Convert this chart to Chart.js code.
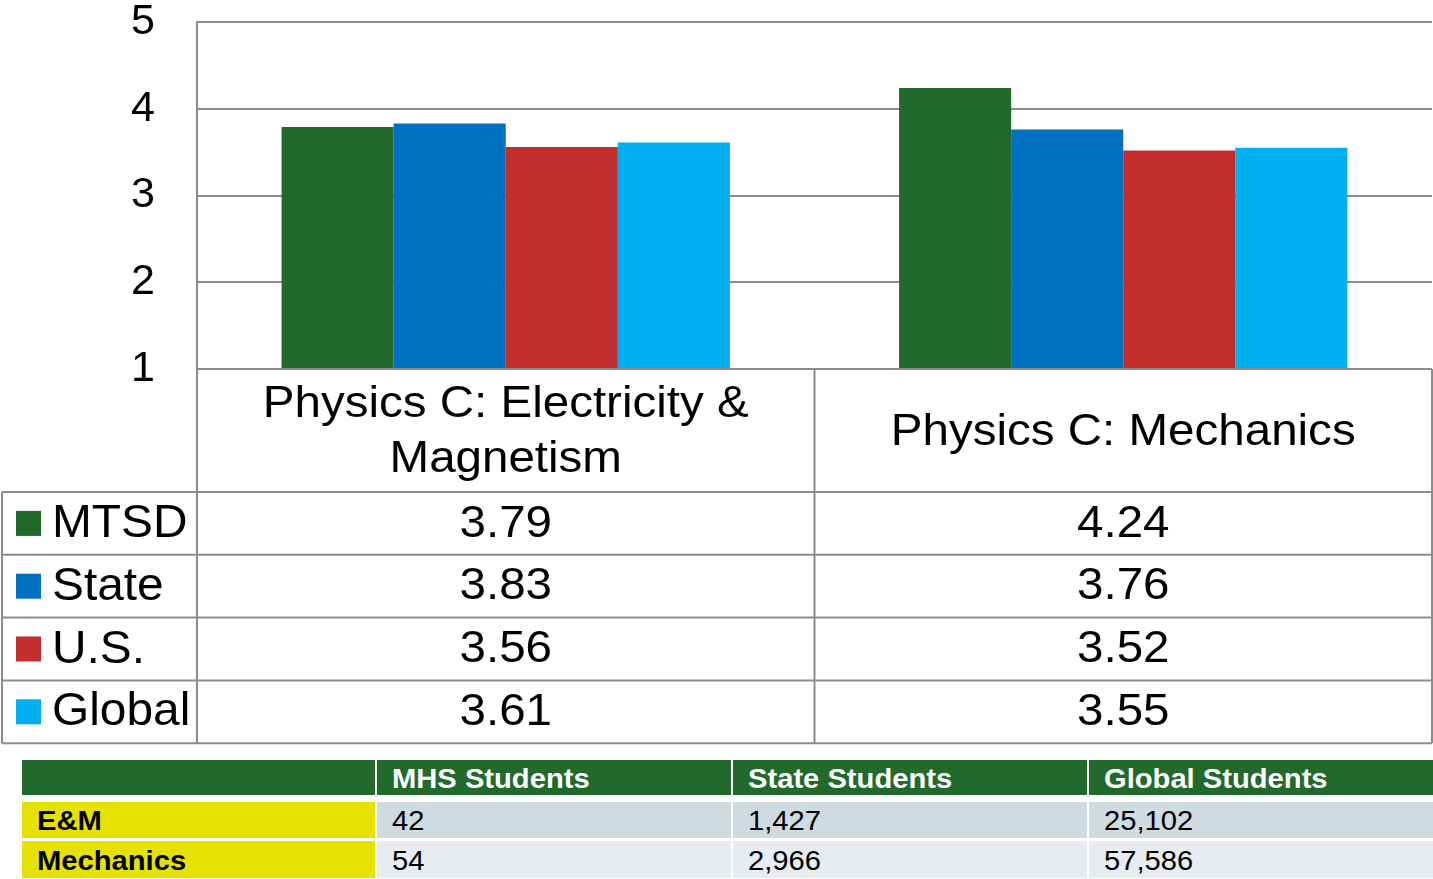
<!DOCTYPE html>
<html>
<head>
<meta charset="utf-8">
<script src="https://cdn.jsdelivr.net/npm/chart.js@4"></script>
<style>
  body { margin: 0; background: #fff; width: 1433px; height: 879px; overflow: hidden; position: relative; font-family: "Liberation Sans", Arial, sans-serif; }
  #chart { position: absolute; left: 0; top: 0; }
  .cell { position: absolute; box-sizing: border-box; padding-left: 15px; font-size: 27px; color: #000; white-space: nowrap; }
  .cell span { display: inline-block; transform: scaleX(1.08); transform-origin: left center; }
  .head { background: #216a2c; color: #fff; font-weight: bold; }
  .label { background: #e6e200; font-weight: bold; }
  .r0 { background: #cedbe1; }
  .r1 { background: #e6ecf0; }
</style>
</head>
<body>
<canvas id="chart" width="1433" height="750"></canvas>
<div id="students"></div>
<script>
// chart data
const categories = [['Physics C: Electricity &', 'Magnetism'], ['Physics C: Mechanics']];
const seriesNames = ['MTSD', 'State', 'U.S.', 'Global'];
const seriesColors = ['#216a2c', '#0070c0', '#c22d2e', '#00b0f0'];
const mtsd = [3.79, 4.24];
const state = [3.83, 3.76];
const us = [3.56, 3.52];
const global = [3.61, 3.55];
const yTicks = [1, 2, 3, 4, 5];

// student count table
const studentHeaders = ['', 'MHS Students', 'State Students', 'Global Students'];
const studentRows = ['E&M', 'Mechanics'];
const mhsStudents = ['42', '54'];
const stateStudents = ['1,427', '2,966'];
const globalStudents = ['25,102', '57,586'];

const FONT = '"Liberation Sans", Arial, sans-serif';
const LINE = '#8c8c8c';
const STRETCH = 1.08; // the source slide text is a bit wider than plain Arial

const seriesValues = [mtsd, state, us, global];

function wideText(ctx, text, x, y, sx) {
    ctx.save();
    ctx.translate(x, y);
    ctx.scale(sx, 1);
    ctx.fillText(text, 0, 0);
    ctx.restore();
}

// data table under the plot, drawn from the x scale
const dataTable = {
    id: 'dataTable',
    afterDraw(chart) {
        const ctx = chart.ctx;
        const area = chart.chartArea;
        const xs = chart.scales.x;
        const left = area.left;
        const mid = (xs.getPixelForValue(0) + xs.getPixelForValue(1)) / 2;
        const right = area.right;
        const bounds = [left, mid, right];
        const headTop = area.bottom;
        const headBottom = headTop + 123;
        const rowH = 62.8;
        const tableBottom = headBottom + rowH * seriesNames.length;
        const outerLeft = 2;

        ctx.save();
        ctx.strokeStyle = LINE;
        ctx.lineWidth = 2;
        ctx.beginPath();
        // header row
        ctx.moveTo(left, headTop); ctx.lineTo(right, headTop);
        bounds.forEach(x => { ctx.moveTo(x, headTop); ctx.lineTo(x, tableBottom); });
        // series rows
        for (let i = 0; i <= seriesNames.length; i++) {
            const y = headBottom + rowH * i;
            ctx.moveTo(outerLeft, y); ctx.lineTo(right, y);
        }
        ctx.moveTo(outerLeft, headBottom); ctx.lineTo(outerLeft, tableBottom);
        ctx.stroke();

        ctx.fillStyle = '#000';
        ctx.textAlign = 'center';
        ctx.textBaseline = 'middle';
        ctx.font = '44px ' + FONT;
        categories.forEach((lines, c) => {
            const cx = (bounds[c] + bounds[c + 1]) / 2;
            const cy = (headTop + headBottom) / 2 + 2;
            const lh = 55;
            lines.forEach((t, k) => {
                wideText(ctx, t, cx, cy + (k - (lines.length - 1) / 2) * lh, STRETCH);
            });
        });

        seriesNames.forEach((name, i) => {
            const cy = headBottom + rowH * i + rowH / 2;
            ctx.fillStyle = seriesColors[i];
            ctx.fillRect(16, cy - 12.5, 25, 25);
            ctx.fillStyle = '#000';
            ctx.textAlign = 'left';
            ctx.font = '46px ' + FONT;
            wideText(ctx, name, 52, cy + 1, 1.04);
            ctx.textAlign = 'center';
            ctx.font = '44px ' + FONT;
            seriesValues[i].forEach((v, c) => {
                wideText(ctx, v.toFixed(2), (bounds[c] + bounds[c + 1]) / 2, cy + 1, STRETCH);
            });
        });
        ctx.restore();
    }
};

new Chart(document.getElementById('chart'), {
    type: 'bar',
    data: {
        labels: categories,
        datasets: seriesNames.map((name, i) => ({
            label: name,
            data: seriesValues[i],
            backgroundColor: seriesColors[i],
            borderWidth: 0,
            categoryPercentage: 0.726,
            barPercentage: 1
        }))
    },
    options: {
        responsive: false,
        animation: false,
        layout: { padding: { top: 22, right: 1, bottom: 381, left: 0 } },
        plugins: { legend: { display: false }, tooltip: { enabled: false } },
        scales: {
            x: { display: false },
            y: {
                min: 1,
                max: 5,
                afterFit: s => {
                    s.width = 197;
                    s.paddingTop = 0;
                    s.paddingBottom = 0;
                },
                afterBuildTicks: s => { s.ticks = yTicks.map(v => ({ value: v })); },
                border: { display: true, color: LINE, width: 2 },
                grid: { color: LINE, lineWidth: 2, drawTicks: false },
                ticks: { padding: 42, color: '#000', font: { family: FONT, size: 43, lineHeight: 1 } }
            }
        }
    },
    plugins: [dataTable]
});

// student counts table
const colX = [22, 377, 733, 1089];
const colW = [353, 354, 354, 344];
const rowY = [760, 802, 841];
const rowHt = [35, 36, 37];
const host = document.getElementById('students');
function addCell(text, x, y, w, h, cls) {
    const d = document.createElement('div');
    d.className = 'cell ' + cls;
    d.style.left = x + 'px';
    d.style.top = y + 'px';
    d.style.width = w + 'px';
    d.style.height = h + 'px';
    d.style.lineHeight = (h + 3) + 'px';
    const s = document.createElement('span');
    s.textContent = text;
    d.appendChild(s);
    host.appendChild(d);
}
studentHeaders.forEach((t, c) => addCell(t, colX[c], rowY[0], colW[c], rowHt[0], 'head'));
studentRows.forEach((name, r) => {
    const cols = [name, mhsStudents[r], stateStudents[r], globalStudents[r]];
    cols.forEach((t, c) => addCell(t, colX[c], rowY[r + 1], colW[c], rowHt[r + 1], c === 0 ? 'label' : 'r' + r));
});
</script>
</body>
</html>
